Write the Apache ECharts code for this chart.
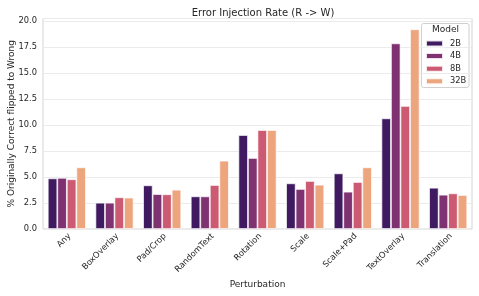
<!DOCTYPE html>
<html><head><meta charset="utf-8">
<script src="https://cdn.jsdelivr.net/npm/echarts@6/dist/echarts.min.js"></script>
<style>html,body{margin:0;padding:0;background:#fff}#c{width:479px;height:296px}</style>
</head><body><div id="c"></div>
<script>
const categories = ['Any','BoxOverlay','Pad/Crop','RandomText','Rotation','Scale','Scale+Pad','TextOverlay','Translation'];
const models = ['2B','4B','8B','32B'];
const v2B  = [4.87, 2.53, 4.20, 3.14, 9.04, 4.39, 5.35, 10.64, 3.97];
const v4B  = [4.92, 2.53, 3.36, 3.14, 6.83, 3.85, 3.59, 17.85, 3.30];
const v8B  = [4.78, 3.05, 3.34, 4.23, 9.52, 4.62, 4.52, 11.83, 3.43];
const v32B = [5.93, 3.02, 3.78, 6.57, 9.52, 4.26, 5.93, 19.20, 3.27];
const yTicks = [0, 2.5, 5, 7.5, 10, 12.5, 15, 17.5, 20];
const colors = ['#3f1a60', '#7f3272', '#cb5a72', '#eca57d'];
const seriesData = [v2B, v4B, v8B, v32B];
const font = 'DejaVu Sans';
const txt = '#262626';
const chart = echarts.init(document.getElementById('c'), null, {renderer: 'canvas'});
chart.setOption({
  animation: false,
  backgroundColor: '#fff',
  textStyle: {fontFamily: font},
  title: {text: 'Error Injection Rate (R -> W)', left: 258, top: 3, textAlign: 'center',
    textStyle: {fontFamily: font, fontSize: 10, fontWeight: 'normal', color: txt}},
  grid: {left: 43, right: 7, top: 18.5, bottom: 67, show: true, borderColor: '#d4d4d4', borderWidth: 1,
    outerBoundsMode: 'none', containLabel: false},
  legend: {data: models, orient: 'vertical', left: 425, top: 39.5, padding: 0, itemWidth: 17, itemHeight: 6, itemGap: 4.6,
    textStyle: {fontFamily: font, fontSize: 8.3, color: txt, padding: [0, 0, 0, 2]}, icon: 'rect'},
  graphic: [
    {type: 'rect', shape: {x: 421.5, y: 23.5, width: 47.5, height: 64, r: 2}, style: {fill: 'rgba(255,255,255,0.8)', stroke: '#d0d0d0', lineWidth: 1}, z: 0},
    {type: 'text', left: 432, top: 25, style: {text: 'Model', font: '9px DejaVu Sans', fill: txt}, z: 10}
  ],
  xAxis: {type: 'category', data: categories,
    name: 'Perturbation', nameLocation: 'middle', nameGap: 51, nameMoveOverlap: false,
    nameTextStyle: {fontFamily: font, fontSize: 9, color: txt},
    axisLine: {show: false}, axisTick: {show: false},
    axisLabel: {rotate: 45, fontFamily: font, fontSize: 8.3, color: txt, margin: 3, interval: 0, verticalAlign: 'top'}},
  yAxis: {type: 'value', min: 0, max: 20.24, interval: 2.5,
    name: '% Originally Correct flipped to Wrong', nameLocation: 'middle', nameGap: 27, nameMoveOverlap: false,
    nameTextStyle: {fontFamily: font, fontSize: 9, color: txt},
    axisLine: {show: false}, axisTick: {show: false},
    axisLabel: {fontFamily: font, fontSize: 8.3, color: txt, margin: 6,
      formatter: v => yTicks.some(t => Math.abs(t - v) < 1e-6) ? v.toFixed(1) : ''},
    splitLine: {lineStyle: {color: '#ebebeb', width: 1}}},
  series: models.map((m, i) => ({
    name: m, type: 'bar', data: seriesData[i],
    barGap: '0%', barCategoryGap: '20%',
    itemStyle: {color: colors[i], borderColor: 'rgba(255,255,255,0.85)', borderWidth: 0.8}
  }))
});
</script></body></html>
